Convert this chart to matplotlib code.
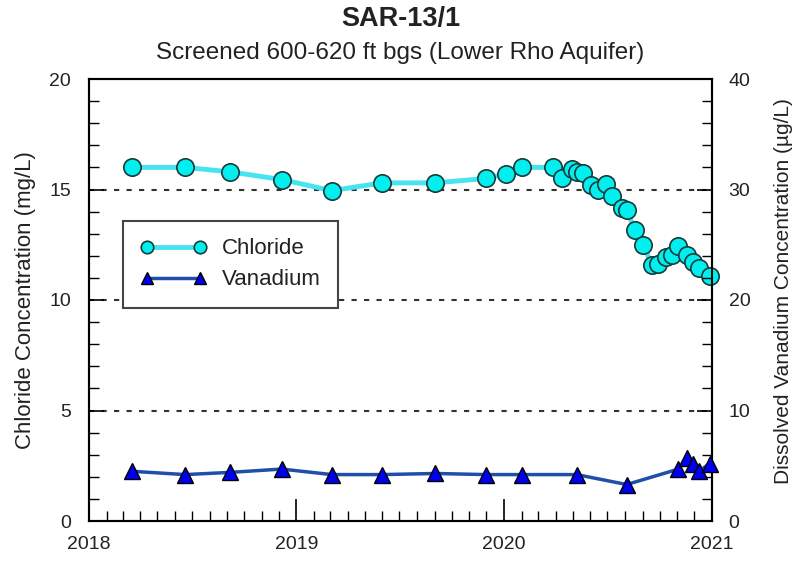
import pandas as pd
import matplotlib
matplotlib.use("Agg")
import matplotlib.pyplot as plt
import matplotlib.dates as mdates
from matplotlib.ticker import MultipleLocator

plt.rcParams['font.family'] = ['Liberation Sans', 'DejaVu Sans']

# chloride (mg/L), left axis
cl_dates = ["2018-03-17", "2018-06-19", "2018-09-06", "2018-12-06", "2019-03-04",
            "2019-06-01", "2019-09-02", "2019-12-01", "2020-01-04", "2020-02-02",
            "2020-03-28", "2020-04-12", "2020-04-30", "2020-05-08", "2020-05-19",
            "2020-06-03", "2020-06-14", "2020-06-28", "2020-07-09", "2020-07-27",
            "2020-08-04", "2020-08-19", "2020-09-02", "2020-09-17", "2020-09-28",
            "2020-10-12", "2020-10-23", "2020-11-03", "2020-11-18", "2020-11-29",
            "2020-12-09", "2020-12-28"]
cl_values = [16.0, 16.0, 15.8, 15.45, 14.95,
             15.3, 15.3, 15.5, 15.7, 16.0,
             16.0, 15.5, 15.95, 15.8, 15.75,
             15.2, 15.0, 15.25, 14.7, 14.15,
             14.05, 13.15, 12.5, 11.6, 11.65,
             11.95, 12.05, 12.45, 12.05, 11.7,
             11.45, 11.1]

# dissolved vanadium (ug/L), right axis
v_dates = ["2018-03-17", "2018-06-19", "2018-09-06", "2018-12-06", "2019-03-04",
           "2019-06-01", "2019-09-02", "2019-12-01", "2020-02-02", "2020-05-08",
           "2020-08-04", "2020-11-03", "2020-11-18", "2020-11-29", "2020-12-09",
           "2020-12-28"]
v_values = [4.5, 4.2, 4.4, 4.7, 4.2,
            4.2, 4.3, 4.2, 4.2, 4.2,
            3.3, 4.7, 5.7, 5.2, 4.5,
            5.2]

cl_x = pd.to_datetime(cl_dates)
v_x = pd.to_datetime(v_dates)

fig = plt.figure(figsize=(7.99, 5.64), dpi=100)
ax = fig.add_axes([89/799, 43/564, 623/799, 442/564])
ax2 = ax.twinx()

txt = '#222222'

# dashed gridlines at 5/10/15
for g in [5, 10, 15]:
    ax.axhline(g, color='#333333', lw=1.5, ls=(0, (2.5, 3.5)), zorder=1)

l1, = ax.plot(cl_x, cl_values, color='#44E4F0', lw=3.5, marker='o', ms=12.5,
              mfc='#00F0F0', mec='#1a3a3a', mew=1.2, zorder=3, label='Chloride',
              clip_on=False)
l2, = ax2.plot(v_x, v_values, color='#1F4FA8', lw=2.5, marker='^', ms=11.5,
               mfc='#0000F0', mec='black', mew=1.0, zorder=3, label='Vanadium',
               clip_on=False)

ax.set_xlim(pd.Timestamp("2018-01-01"), pd.Timestamp("2021-01-01"))
ax.set_ylim(0, 20)
ax2.set_ylim(0, 40)

ax.xaxis.set_major_locator(mdates.YearLocator())
ax.xaxis.set_major_formatter(mdates.DateFormatter('%Y'))
ax.xaxis.set_minor_locator(mdates.MonthLocator())
ax.yaxis.set_major_locator(MultipleLocator(5))
ax.yaxis.set_minor_locator(MultipleLocator(1))
ax2.yaxis.set_major_locator(MultipleLocator(10))
ax2.yaxis.set_minor_locator(MultipleLocator(2))

ax.tick_params(axis='x', which='major', direction='in', length=16, width=1.2,
               labelsize=14, labelcolor=txt, pad=11)
ax.tick_params(axis='x', which='minor', direction='in', length=7, width=1.0)
ax.tick_params(axis='y', which='major', direction='in', length=11, width=1.2,
               labelsize=14, labelcolor=txt, pad=13)
ax.tick_params(axis='y', which='minor', direction='in', length=7, width=1.0)
ax.tick_params(top=False, which='both')
ax2.tick_params(axis='y', which='major', direction='in', length=11, width=1.2,
                labelsize=14, labelcolor=txt, pad=12)
ax2.tick_params(axis='y', which='minor', direction='in', length=7, width=1.0)

for a in (ax, ax2):
    for s in a.spines.values():
        s.set_linewidth(1.5)
        s.set_color('black')

ax.set_ylabel("Chloride Concentration (mg/L)", fontsize=16, color=txt)
ax.yaxis.set_label_coords(-0.085, 0.5)
ax2.set_ylabel("Dissolved Vanadium Concentration (\u00b5g/L)", fontsize=15, color=txt)
ax2.yaxis.set_label_coords(1.1, 0.52)

leg = ax2.legend(handles=[l1, l2], loc='upper left',
                 bbox_to_anchor=((123-89)/623, (521-221)/442),
                 borderaxespad=0, numpoints=2, markerscale=0.72,
                 handlelength=3.0, handletextpad=0.68,
                 labelspacing=0.45, borderpad=0.78, fontsize=16, fancybox=False,
                 framealpha=1, edgecolor='#444444')
leg.get_frame().set_linewidth(1.5)
leg.set_zorder(5)
for t in leg.get_texts():
    t.set_color(txt)

fig.text(0.5013, 0.967, "SAR-13/1", ha='center', va='center', fontsize=19.5,
         fontweight='bold', color=txt)
fig.text(0.5013, 0.906, "Screened 600-620 ft bgs (Lower Rho Aquifer)", ha='center',
         va='center', fontsize=17.5, color=txt)

fig.savefig("out.png", dpi=100)
